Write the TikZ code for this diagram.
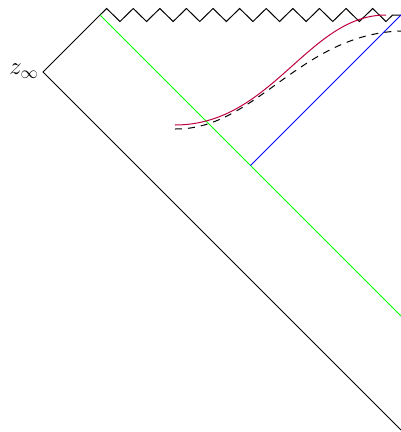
\documentclass[tikz,border=0pt]{standalone}
\usetikzlibrary{decorations.pathmorphing}
\begin{document}
\begin{tikzpicture}[x=1pt,y=-1pt,line width=1pt,
  bound/.style={black},
  sing/.style={black,decorate,decoration={zigzag,segment length=26.6pt,amplitude=6.5pt}},
  horizon/.style={green},
  shell/.style={blue},
  solid curve/.style={purple},
  dash curve/.style={black,dash pattern=on 7pt off 6pt},
  lab/.style={inner sep=0pt,font=\fontsize{26}{31}\selectfont}]
\useasboundingbox (0,0) rectangle (401,432);
\coordinate (zinf) at (43,72);
\coordinate (tl) at (100,15);
\coordinate (tr) at (401,15);
\coordinate (br) at (401,430);
\coordinate (gr) at (401,316);
\coordinate (bm) at (250.5,165.5);
\coordinate (rs) at (175,125);
\coordinate (re) at (386,15);
\coordinate (ds) at (175,129);
\coordinate (de) at (401,31);
\draw[bound] (br) -- (zinf) -- (tl);
\draw[sing] (tl) -- (tr);
\draw[horizon] (tl) -- (gr);
\draw[shell] (bm) -- (tr);
\draw[solid curve] (rs) .. controls (272,125) and (308,15) .. (re);
\draw[dash curve] (ds) .. controls (255,130) and (300,34) .. (de);
\node[lab,anchor=base east] (zlab) at (39,74.3) {$z_\infty$};
\end{tikzpicture}
\end{document}
